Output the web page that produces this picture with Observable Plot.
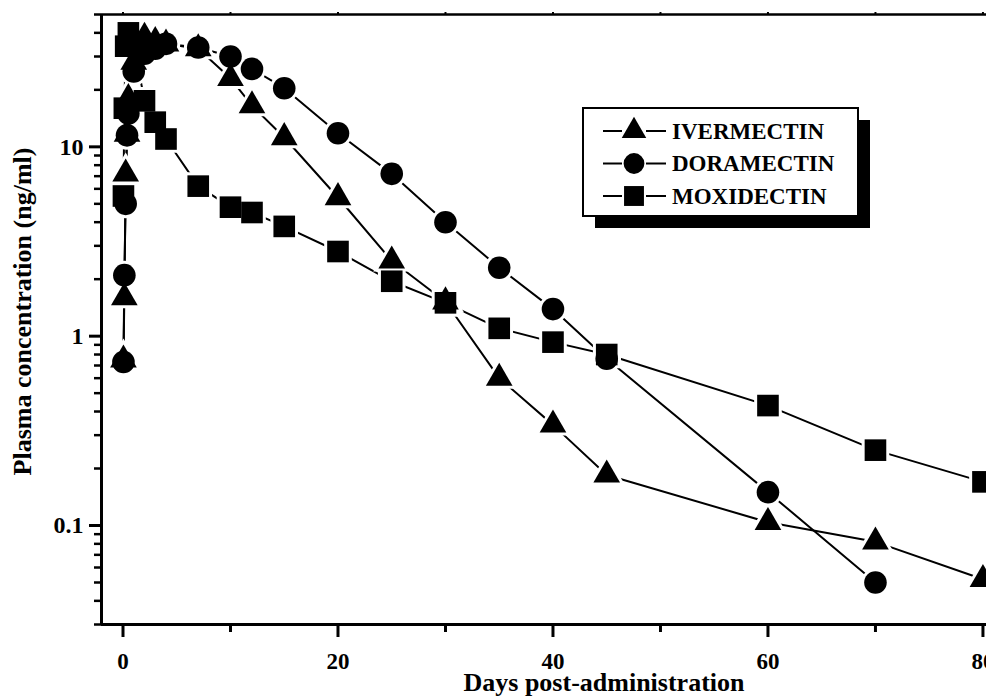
<!DOCTYPE html>
<html><head><meta charset="utf-8">
<script src="https://cdn.jsdelivr.net/npm/d3@7"></script>
<script src="https://cdn.jsdelivr.net/npm/@observablehq/plot@0.6"></script>
<style>
html,body{margin:0;padding:0;background:#fff;overflow:hidden;}
#chart{width:986px;height:698px;overflow:hidden;}
</style></head>
<body><div id="chart"></div>
<script>
// ---- data (days post-administration, ng/ml) ----
const seriesNames = ["IVERMECTIN", "DORAMECTIN", "MOXIDECTIN"];
const seriesSymbols = ["triangle", "circle", "square"];

const ivermectinDays = [0.042, 0.125, 0.25, 0.375, 0.5, 1, 2, 3, 4, 7, 10, 12, 15, 20, 25, 30, 35, 40, 45, 60, 70, 80];
const ivermectinConc = [0.75, 1.6, 7.2, 11.7, 18, 28, 38, 36, 35, 33, 23, 16.5, 11.2, 5.4, 2.5, 1.52, 0.6, 0.34, 0.185, 0.104, 0.082, 0.052];

const doramectinDays = [0.042, 0.125, 0.25, 0.375, 0.5, 1, 2, 3, 4, 7, 10, 12, 15, 20, 25, 30, 35, 40, 45, 60, 70];
const doramectinConc = [0.73, 2.1, 5.0, 11.5, 15, 25, 31, 33, 35, 33.5, 30, 25.8, 20.4, 11.8, 7.2, 4.0, 2.3, 1.39, 0.76, 0.15, 0.05];

const moxidectinDays = [0.042, 0.125, 0.25, 0.5, 1, 2, 3, 4, 7, 10, 12, 15, 20, 25, 30, 35, 40, 45, 60, 70, 80];
const moxidectinConc = [5.5, 16, 34, 40, 35, 17.5, 13.5, 11, 6.2, 4.8, 4.5, 3.8, 2.8, 1.95, 1.5, 1.1, 0.93, 0.8, 0.43, 0.25, 0.17];

const xMajorTicks = [0, 20, 40, 60, 80];
const xTickLabels = ["0", "20", "40", "60", "80"];
const xMinorTicks = [10, 30, 50, 70];
const yMajorTicks = [0.1, 1, 10];
const yTickLabels = ["0.1", "1", "10"];
const yMinorTicks = [0.03, 0.04, 0.05, 0.06, 0.07, 0.08, 0.09, 0.2, 0.3, 0.4, 0.5, 0.6, 0.7, 0.8, 0.9, 2, 3, 4, 5, 6, 7, 8, 9, 20, 30, 40, 50];
const xTitle = "Days post-administration";
const yTitle = "Plasma concentration (ng/ml)";

// ---- build table ----
const allDays = [ivermectinDays, doramectinDays, moxidectinDays];
const allConc = [ivermectinConc, doramectinConc, moxidectinConc];
const rows = [];
seriesNames.forEach((name, s) => {
  allDays[s].forEach((d, i) => rows.push({drug: name, day: d, conc: allConc[s][i]}));
});

const FONT = "'Liberation Serif','Times New Roman',serif";
const symbolR = {triangle: 9.9, circle: 11.3, square: 12.2};
const xLabelMap = new Map(xMajorTicks.map((d, i) => [d, xTickLabels[i]]));
const yLabelMap = new Map(yMajorTicks.map((d, i) => [d, yTickLabels[i]]));

const haloMarks = seriesNames.map((name, s) => Plot.dot(rows.filter(r => r.drug === name), {
  x: "day", y: "conc", symbol: () => seriesSymbols[s], r: symbolR[seriesSymbols[s]],
  fill: "white", stroke: "white", strokeWidth: 6
}));
const dotMarks = seriesNames.map((name, s) => Plot.dot(rows.filter(r => r.drug === name), {
  x: "day", y: "conc", symbol: () => seriesSymbols[s], r: symbolR[seriesSymbols[s]],
  fill: "black", stroke: "none"
}));

const plot = Plot.plot({
  width: 986, height: 698,
  marginLeft: 101, marginRight: 0, marginTop: 14, marginBottom: 74,
  style: {fontFamily: FONT, fontWeight: "bold", background: "#fff", color: "#000"},
  x: {domain: [-2, 80.33]},
  y: {type: "log", domain: [0.03, 50]},
  symbol: {type: "identity"},
  marks: [
    Plot.line(rows, {x: "day", y: "conc", z: "drug", stroke: "black", strokeWidth: 2}),
    ...haloMarks,
    ...dotMarks,
    // axes lines
    Plot.ruleY([0.03], {stroke: "black", strokeWidth: 3}),
    Plot.ruleY([50], {stroke: "black", strokeWidth: 2.5}),
    Plot.ruleX([-2], {stroke: "black", strokeWidth: 3}),
    // x ticks
    Plot.axisX(xMajorTicks, {anchor: "bottom", tickSize: 13, tickPadding: 15, strokeWidth: 3, fontSize: 23, fontWeight: "bold", tickFormat: d => xLabelMap.get(d), label: null}),
    Plot.axisX(xMinorTicks, {anchor: "bottom", tickSize: 8, strokeWidth: 3, fill: "none", label: null}),
    Plot.axisX([...xMajorTicks, ...xMinorTicks], {anchor: "top", tickSize: 3, strokeWidth: 2, fill: "none", label: null}),
    // y ticks
    Plot.axisY(yMajorTicks, {anchor: "left", tickSize: 12, tickPadding: 6, strokeWidth: 3, fontSize: 24, fontWeight: "bold", tickFormat: d => yLabelMap.get(d), label: null}),
    Plot.axisY(yMinorTicks, {anchor: "left", tickSize: 7, strokeWidth: 2.5, fill: "none", label: null}),
    // titles
    Plot.text([xTitle], {text: d => d, frameAnchor: "bottom", textAnchor: "middle", dx: 60, dy: 66, fontSize: 26, fontWeight: "bold"}),
    Plot.text([yTitle], {text: d => d, frameAnchor: "left", textAnchor: "middle", rotate: -90, dx: -79, dy: -8, fontSize: 26, fontWeight: "bold"})
  ]
});

// ---- legend (inside the plot, with drop shadow) ----
const svg = d3.select(plot);
const lg = svg.append("g").attr("class", "legend");
const box = {x: 583, y: 108, w: 275, h: 108, shadow: 12};
lg.append("rect").attr("x", box.x + box.shadow).attr("y", box.y + box.shadow).attr("width", box.w).attr("height", box.h).attr("fill", "black");
lg.append("rect").attr("x", box.x).attr("y", box.y).attr("width", box.w).attr("height", box.h).attr("fill", "white").attr("stroke", "black").attr("stroke-width", 2);
const symbolTypes = {triangle: d3.symbolTriangle, circle: d3.symbolCircle, square: d3.symbolSquare};
seriesNames.forEach((name, i) => {
  const cy = 131 + i * 32.5;
  lg.append("line").attr("x1", 603).attr("x2", 622).attr("y1", cy).attr("y2", cy).attr("stroke", "black").attr("stroke-width", 2);
  lg.append("line").attr("x1", 646).attr("x2", 666).attr("y1", cy).attr("y2", cy).attr("stroke", "black").attr("stroke-width", 2);
  const sym = seriesSymbols[i];
  const r = symbolR[sym] * 0.92;
  lg.append("path").attr("transform", `translate(634,${cy})`).attr("d", d3.symbol(symbolTypes[sym], r * r * Math.PI)()).attr("fill", "black");
  lg.append("text").attr("x", 672).attr("y", cy + 7.5).attr("font-size", 23).attr("font-weight", "bold")
    .attr("text-anchor", "start").attr("font-family", FONT).attr("fill", "black").text(name);
});

document.getElementById("chart").appendChild(plot);
</script>
</body></html>
